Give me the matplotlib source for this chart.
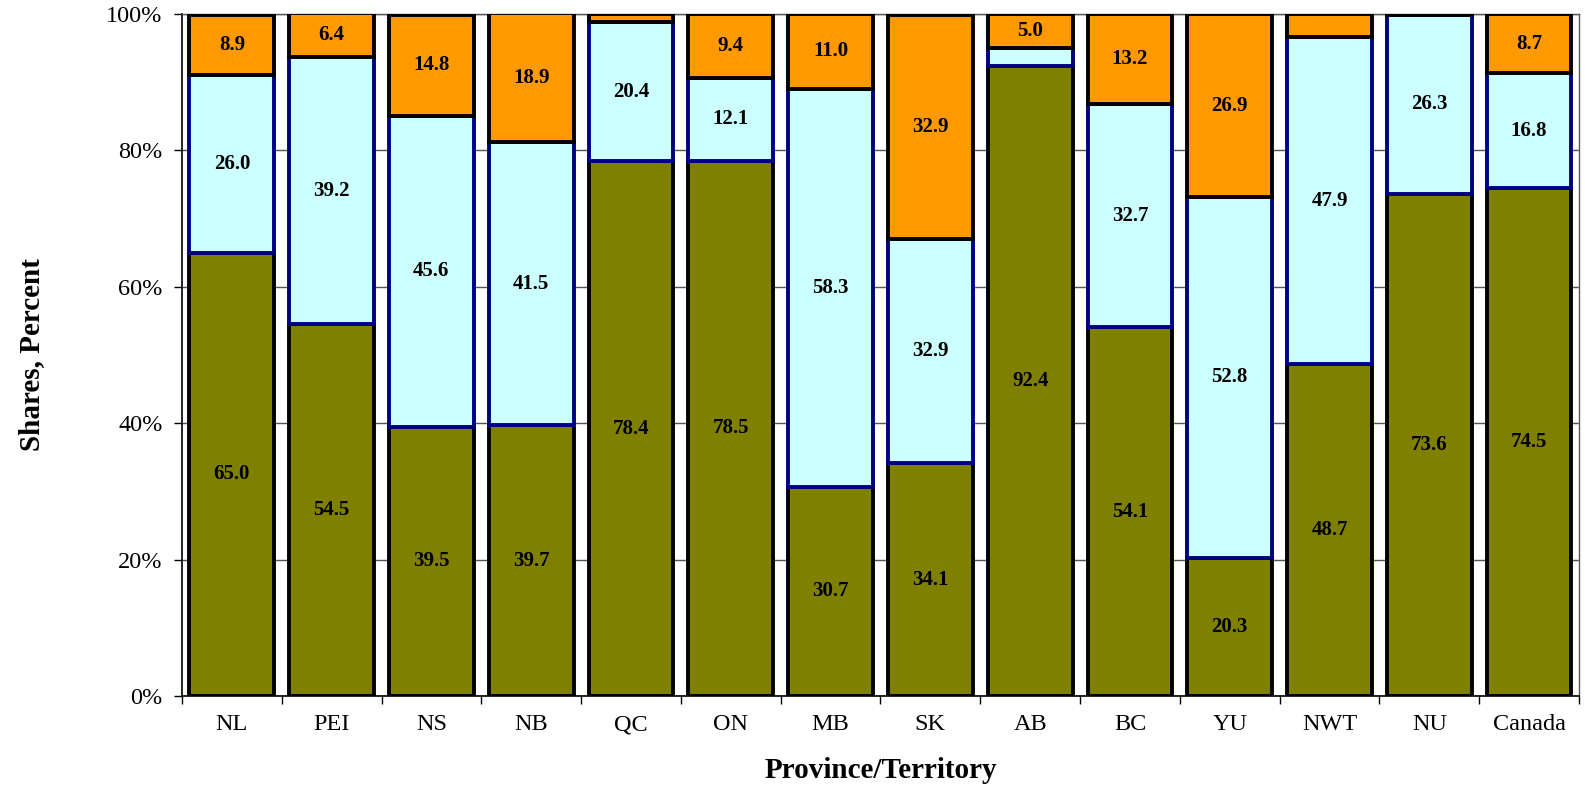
import matplotlib
matplotlib.use("Agg")
import matplotlib.pyplot as plt
import numpy as np

regions = ["NL", "PEI", "NS", "NB", "QC", "ON", "MB", "SK", "AB", "BC",
           "YU", "NWT", "NU", "Canada"]
bottom_share = [65.0, 54.5, 39.5, 39.7, 78.4, 78.5, 30.7, 34.1, 92.4, 54.1,
                20.3, 48.7, 73.6, 74.5]
middle_share = [26.0, 39.2, 45.6, 41.5, 20.4, 12.1, 58.3, 32.9, 2.6, 32.7,
                52.8, 47.9, 26.3, 16.8]
top_share = [8.9, 6.4, 14.8, 18.9, 1.2, 9.4, 11.0, 32.9, 5.0, 13.2,
             26.9, 3.4, 0.1, 8.7]
ytick_labels = ["0%", "20%", "40%", "60%", "80%", "100%"]

plt.rcParams["font.family"] = ["Liberation Serif", "DejaVu Serif"]

fig = plt.figure(figsize=(15.85, 7.9), dpi=100)
ax = fig.add_axes([0.1148, 0.119, 0.8814, 0.8633])

x = np.arange(len(regions))
width = 0.85
lw = 2.8

b = np.array(bottom_share)
m = np.array(middle_share)
t = np.array(top_share)

segments = [
    (b, np.zeros_like(b), "#808000", "black", 3),
    (m, b, "#CCFFFF", "#000080", 4),
    (t, b + m, "#FF9900", "black", 5),
]

for vals, base, face, edge, z in segments:
    ax.bar(x, vals, width, bottom=base, color=face, edgecolor=edge,
           linewidth=lw, zorder=z)
    for xi, v, b0 in zip(x, vals, base):
        if v >= 5:
            ax.text(xi, b0 + v / 2, f"{v:.1f}", ha="center", va="center",
                    fontsize=15, fontweight="bold", color="black", zorder=10)

ax.set_xlim(-0.5, len(regions) - 0.5)
ax.set_ylim(0, 100)

ax.set_yticks(np.arange(0, 101, 20))
ax.set_yticklabels(ytick_labels, fontsize=17.5)
ax.yaxis.grid(True, color="#555555", linewidth=1.0, zorder=0)
ax.set_axisbelow(True)

# category labels centred, tick marks between categories
ax.set_xticks(x)
ax.set_xticklabels(regions, fontsize=17.5)
ax.tick_params(axis="x", length=0, pad=13)
ax.set_xticks(np.arange(-0.5, len(regions), 1), minor=True)
ax.tick_params(axis="x", which="minor", length=6, width=1.0, color="black")
ax.tick_params(axis="y", length=6, width=1.0, color="black", pad=8)

for side in ["top", "right"]:
    ax.spines[side].set_color("#555555")
    ax.spines[side].set_linewidth(1.0)
for side in ["left", "bottom"]:
    ax.spines[side].set_color("black")
    ax.spines[side].set_linewidth(1.2)

ax.set_xlabel("Province/Territory", fontsize=21, fontweight="bold", labelpad=16)
ax.set_ylabel("Shares, Percent", fontsize=21, fontweight="bold", labelpad=44)

fig.savefig("out.png", dpi=100)
